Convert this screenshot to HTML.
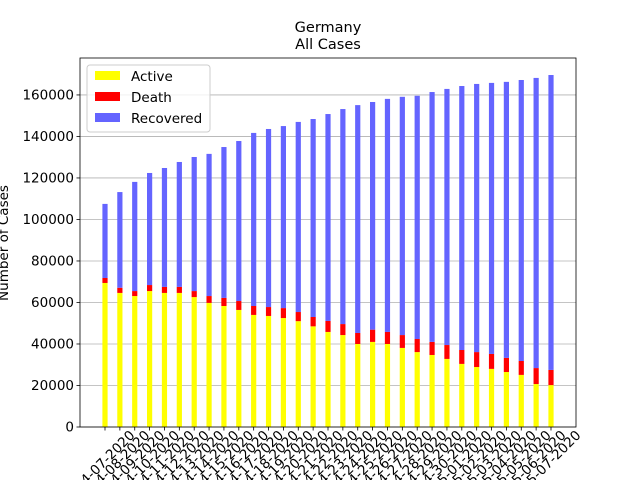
<!DOCTYPE html>
<html><head><meta charset="utf-8"><style>
html,body{margin:0;padding:0;background:#fff;}
svg{display:block;font-family:"DejaVu Sans","Liberation Sans",sans-serif;}
</style></head><body>
<svg id="chart" width="640" height="480" viewBox="0 0 640 480" xmlns="http://www.w3.org/2000/svg">
<rect width="640" height="480" fill="#fff"/>
<text x="328" y="32" text-anchor="middle" font-size="14.5">Germany</text>
<text x="328" y="49" text-anchor="middle" font-size="14.5">All Cases</text>
<g id="grid"></g><g id="bars"></g><g id="axes"></g>
<text transform="translate(8,243) rotate(-90)" text-anchor="middle" font-size="13.5">Number of Cases</text>
<g>
<rect x="87" y="65" width="123" height="67" rx="3" fill="#fff" fill-opacity="0.8" stroke="#ccc"/>
<rect x="95" y="71" width="25" height="9" fill="#ffff00"/>
<text x="131" y="81" font-size="13.5">Active</text>
<rect x="95" y="92" width="25" height="9" fill="#ff0000"/>
<text x="131" y="102" font-size="13.5">Death</text>
<rect x="95" y="113" width="25" height="9" fill="#6464ff"/>
<text x="131" y="123" font-size="13.5">Recovered</text>
</g>
</svg>
<script>
const categories = ["04-07-2020","04-08-2020","04-09-2020","04-10-2020","04-11-2020","04-12-2020","04-13-2020","04-14-2020","04-15-2020","04-16-2020","04-17-2020","04-18-2020","04-19-2020","04-20-2020","04-21-2020","04-22-2020","04-23-2020","04-24-2020","04-25-2020","04-26-2020","04-27-2020","04-28-2020","04-29-2020","04-30-2020","05-01-2020","05-02-2020","05-03-2020","05-04-2020","05-05-2020","05-06-2020","05-07-2020"];
const active = [69400,64600,63100,65500,64600,64600,62600,59800,58300,56400,54000,53500,52500,51000,48500,45800,44300,40000,41000,40000,38100,36100,34700,32800,30400,28900,28000,26500,25100,20700,20200];
const death = [2400,2500,2400,2900,2900,2900,2900,3300,3900,4300,4300,4300,4800,4400,4500,5300,5300,5300,5900,5800,6200,6300,6300,6700,6700,7200,7200,6800,6700,7700,7300];
const recovered = [35700,46100,52600,54000,57300,60200,64600,68500,72700,77100,83400,85800,87700,91600,95400,99700,103600,109800,109700,112300,114800,117200,120400,123400,127200,129200,130600,133000,135400,139800,142100];
const yTicks = [0,20000,40000,60000,80000,100000,120000,140000,160000];
const yMax = 177800;

const L=80,R=576,T=58,B=427;
const ns="http://www.w3.org/2000/svg";
const yS=v=>B-(v/yMax)*(B-T);
const step=(R-L-50)/(categories.length-1+0.0);
const xS=i=>105+i*((551-105)/(categories.length-1));
const bw=5.2;
function mk(tag,attrs,parent){const e=document.createElementNS(ns,tag);for(const k in attrs)e.setAttribute(k,attrs[k]);parent.appendChild(e);return e;}
const grid=document.getElementById('grid'),bars=document.getElementById('bars'),axes=document.getElementById('axes');
yTicks.forEach((t,i)=>{
  const y=yS(t);
  const g=mk('line',{x1:L,x2:R,y1:y,y2:y,stroke:'#b0b0b0','stroke-width':0.8},grid);
  
  
  const tk=mk('line',{x1:L-3.5,x2:L,y1:y,y2:y,stroke:'#000','stroke-width':0.8},axes);
  
  
  const tx=mk('text',{x:L-6,y:y+4.5,'text-anchor':'end','font-size':13.5},axes);
  tx.textContent=String(t);
  
  
});
categories.forEach((c,i)=>{
  const x=xS(i)-bw/2;
  const a=active[i],d=death[i],r=recovered[i];
  const ra=mk('rect',{x:x,width:bw,y:yS(a),height:B-yS(a),fill:'#ffff00'},bars);
  
  
  const rd=mk('rect',{x:x,width:bw,y:yS(a+d),height:yS(a)-yS(a+d),fill:'#ff0000'},bars);
  
  
  const rr=mk('rect',{x:x,width:bw,y:yS(a+d+r),height:yS(a+d)-yS(a+d+r),fill:'#6464ff'},bars);
  
  
  const tk=mk('line',{x1:xS(i),x2:xS(i),y1:B,y2:B+3.5,stroke:'#000','stroke-width':0.8},axes);
  
  
  const cx=xS(i),cy=B+7+27;
  const tl=mk('text',{x:cx,y:cy,'text-anchor':'middle','dominant-baseline':'central','font-size':13.5,transform:`rotate(-45 ${cx} ${cy})`},axes);
  tl.textContent=c;
  
  
});
const fr=mk('rect',{x:L,y:T,width:R-L,height:B-T,fill:'none',stroke:'#000','stroke-width':0.8},axes);


</script>
</body></html>
